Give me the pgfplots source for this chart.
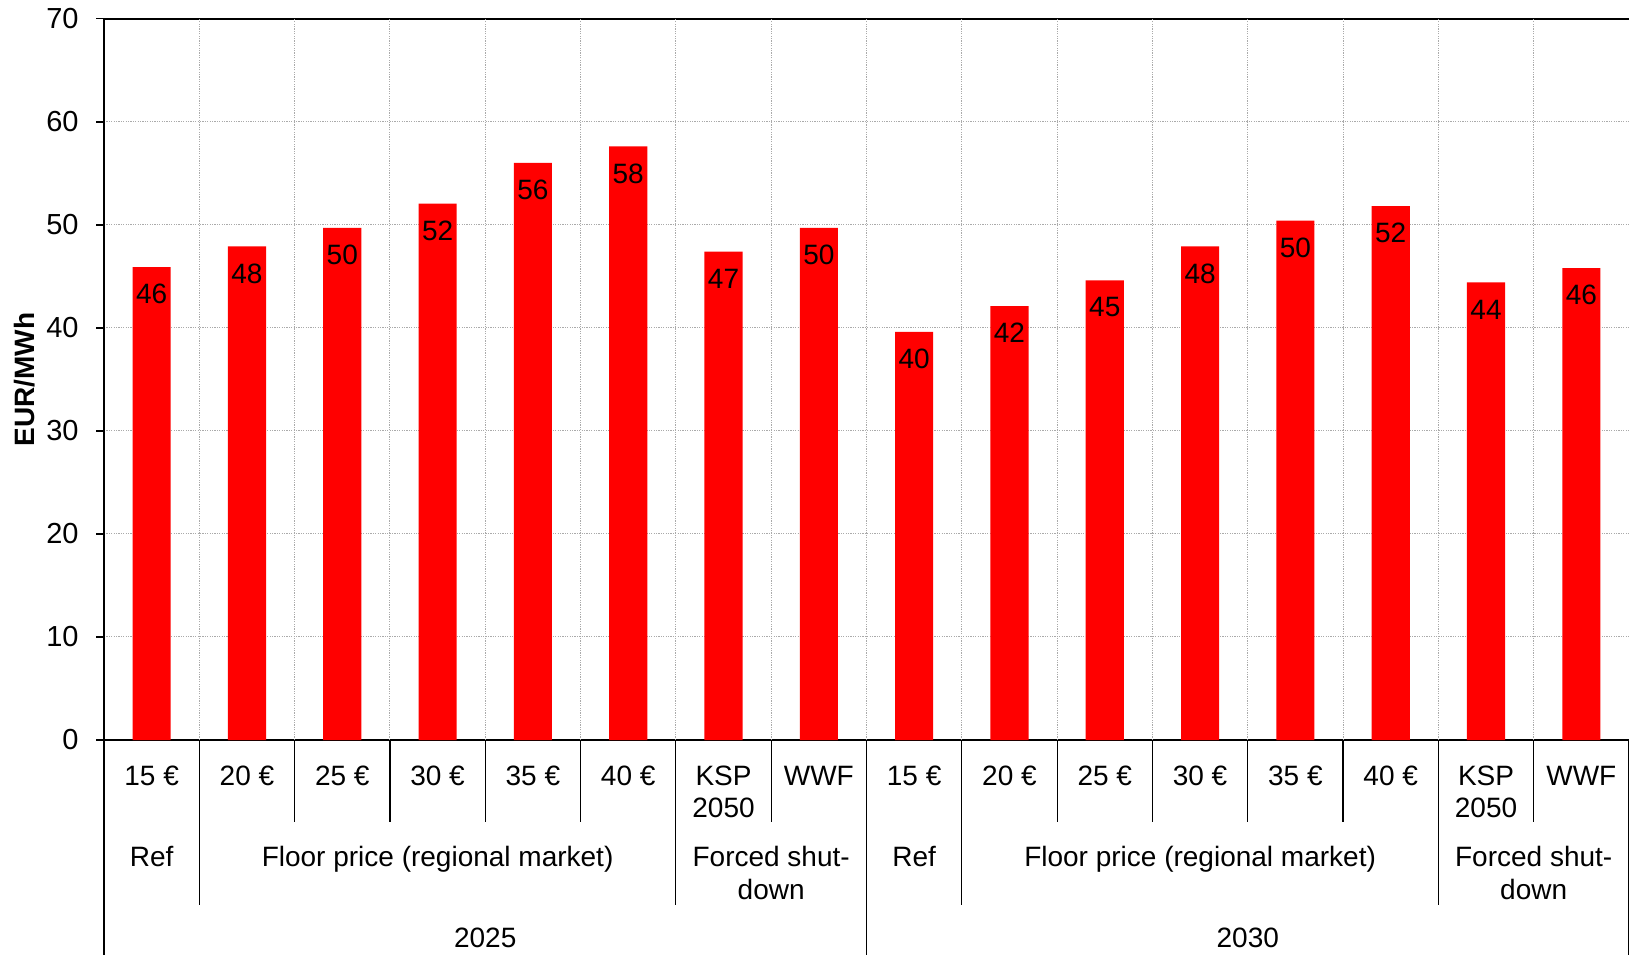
\documentclass[border=0pt]{standalone}
\usepackage{fontspec}
\setmainfont{Liberation Sans}
\usepackage{pgfplots}
\pgfplotsset{compat=1.18}
\definecolor{barred}{RGB}{255,0,0}
\definecolor{gridgray}{RGB}{170,170,170}
\begin{document}
\begin{tikzpicture}
\begin{axis}[
  name=ax,
  scale only axis,
  width=762.5pt, height=360.65pt,
  xmin=-0.5, xmax=15.5, ymin=0, ymax=70,
  ytick={0,10,...,70},
  xtick={0,...,15},
  xticklabels={15 €,20 €,25 €,30 €,35 €,40 €,{KSP\\2050},WWF,15 €,20 €,25 €,30 €,35 €,40 €,{KSP\\2050},WWF},
  separate axis lines,
  axis x line*=box, axis y line*=left,
  axis line style={line width=1pt, -},
  tick align=outside,
  major tick length=4pt,
  x tick style={draw=none},
  y tick style={line width=0.8pt, black},
  ymajorgrids,
  extra x ticks={0.5,1.5,...,14.5},
  extra x tick labels={},
  extra x tick style={grid=major, major tick length=0pt},
  major grid style={gridgray, line width=0.5pt, dash pattern=on 0.6pt off 0.6pt},
  xticklabel style={font=\fontsize{14}{16}\selectfont, align=center, anchor=north, inner sep=0pt, yshift=-9pt},
  yticklabel style={font=\fontsize{14.5}{17}\selectfont, anchor=east, inner sep=0pt, xshift=-8.5pt},
  /pgf/number format/assume math mode=true,
  ylabel={EUR/MWh},
  every axis y label/.style={at={(rel axis cs:0,0.5)}, rotate=90, anchor=center, yshift=39.5pt, font=\fontsize{14}{16}\selectfont\bfseries},
  ybar, bar width=0.4,
  clip=false,
  nodes near coords,
  nodes near coords style={/pgf/number format/fixed, /pgf/number format/precision=0},
  every node near coord/.append style={font=\fontsize{14}{16}\selectfont, anchor=center, yshift=-13.5pt, text=black},
]
\addplot[fill=barred, draw=none] coordinates {
(0,45.9) (1,47.9) (2,49.7) (3,52.05) (4,56.0) (5,57.6) (6,47.4) (7,49.7)
(8,39.6) (9,42.1) (10,44.6) (11,47.9) (12,50.4) (13,51.8) (14,44.4) (15,45.8)
};
% separators below the axis
\pgfplotsinvokeforeach{1.5,2.5,3.5,4.5,6.5,9.5,10.5,11.5,12.5,14.5}{
  \draw[line width=0.6pt] (axis cs:#1,0) -- ([yshift=-41pt]axis cs:#1,0);
}
\pgfplotsinvokeforeach{0.5,5.5,8.5,13.5}{
  \draw[line width=0.6pt] (axis cs:#1,0) -- ([yshift=-82.5pt]axis cs:#1,0);
}
\pgfplotsinvokeforeach{-0.5,7.5,15.5}{
  \draw[line width=0.6pt] (axis cs:#1,0) -- ([yshift=-120pt]axis cs:#1,0);
}
\tikzset{grp/.style={font=\fontsize{14}{16.5}\selectfont, align=center, anchor=north, inner sep=0pt}}
\node[grp] at ([yshift=-53pt]axis cs:0,0) {Ref};
\node[grp] at ([yshift=-53pt]axis cs:3,0) {Floor price (regional market)};
\node[grp] at ([yshift=-53pt]axis cs:6.5,0) {Forced shut-\\down};
\node[grp] at ([yshift=-53pt]axis cs:8,0) {Ref};
\node[grp] at ([yshift=-53pt]axis cs:11,0) {Floor price (regional market)};
\node[grp] at ([yshift=-53pt]axis cs:14.5,0) {Forced shut-\\down};
\node[grp] at ([yshift=-94pt]axis cs:3.5,0) {2025};
\node[grp] at ([yshift=-94pt]axis cs:11.5,0) {2030};
\end{axis}
\pgfresetboundingbox
\path ([xshift=-52pt,yshift=-107pt]ax.south west) rectangle ([yshift=9.35pt]ax.north east);
\end{tikzpicture}
\end{document}
